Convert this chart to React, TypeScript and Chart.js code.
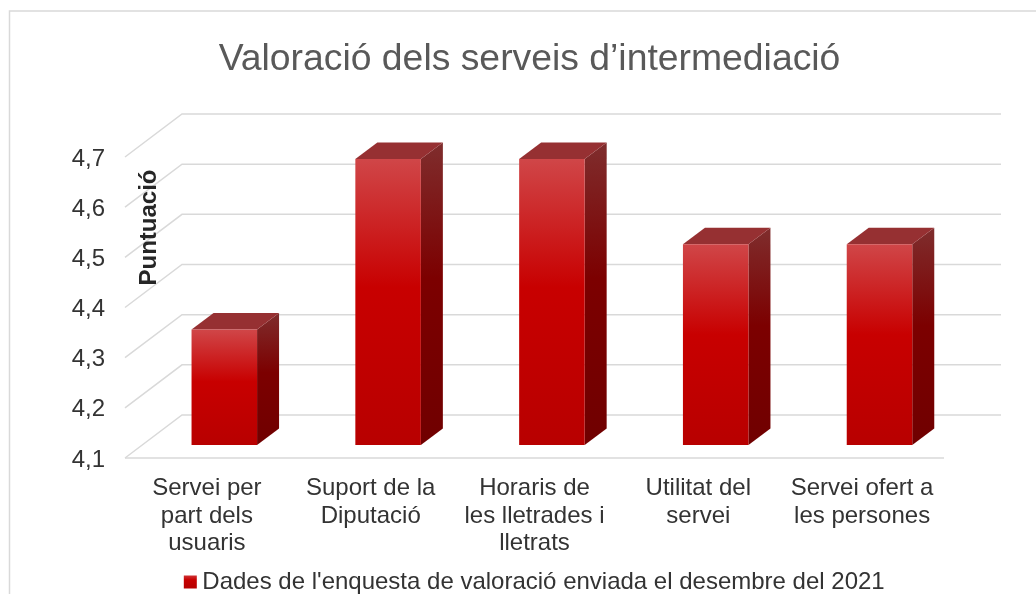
import React, { useEffect, useRef } from "react";
import { Chart, registerables } from "chart.js";

Chart.register(...registerables);

const categories = [
  ["Servei per", "part dels", "usuaris"],
  ["Suport de la", "Diputació"],
  ["Horaris de", "les lletrades i", "lletrats"],
  ["Utilitat del", "servei"],
  ["Servei ofert a", "les persones"],
];
const seriesValues = [4.33, 4.67, 4.67, 4.5, 4.5];
const seriesName = "Dades de l'enquesta de valoració enviada el desembre del 2021";
const chartTitle = "Valoració dels serveis d’intermediació";
const axisTitle = "Puntuació";
const yMin = 4.1;
const yMax = 4.7;

const FONT = "'Liberation Sans', Arial, sans-serif";
const GRID = "#d9d9d9";
const TEXT = "#333333";
const WALL_DX = 57;
const WALL_DY = 43;
const BAR_DX = 17.4;
const BAR_DY = 13;
const DEPTH_DX = 22;
const DEPTH_DY = 16.5;
const TITLE_SHIFT = 57.5;
const LEGEND_SHIFT_X = 65.5;
const LEGEND_SHIFT_Y = 10;

function frontGradient(ctx: CanvasRenderingContext2D, top: number, bottom: number) {
  const g = ctx.createLinearGradient(0, top, 0, bottom);
  g.addColorStop(0, "#d04648");
  g.addColorStop(0.45, "#c80000");
  g.addColorStop(1, "#b80000");
  return g;
}

const depthPlugin = {
  id: "depth3d",
  afterLayout(chart: any) {
    chart.titleBlock.left += TITLE_SHIFT;
    chart.titleBlock.right += TITLE_SHIFT;
    chart.legend.left += LEGEND_SHIFT_X;
    chart.legend.right += LEGEND_SHIFT_X;
    chart.legend.top += LEGEND_SHIFT_Y;
    chart.legend.bottom += LEGEND_SHIFT_Y;
  },
  beforeDraw(chart: any) {
    const { ctx } = chart;
    ctx.save();
    ctx.strokeStyle = GRID;
    ctx.lineWidth = 1.5;
    ctx.beginPath();
    ctx.moveTo(9.5, chart.height + 2);
    ctx.lineTo(9.5, 11);
    ctx.lineTo(chart.width + 2, 11);
    ctx.stroke();
    ctx.restore();
  },
  beforeDatasetsDraw(chart: any) {
    const { ctx, chartArea, scales } = chart;
    ctx.save();
    ctx.strokeStyle = GRID;
    ctx.lineWidth = 1.5;
    scales.y.ticks.forEach((t: any) => {
      const y = scales.y.getPixelForValue(t.value);
      ctx.beginPath();
      ctx.moveTo(chartArea.left, y);
      ctx.lineTo(chartArea.left + WALL_DX, y - WALL_DY);
      ctx.lineTo(chartArea.right + WALL_DX, y - WALL_DY);
      ctx.stroke();
    });
    const y0 = scales.y.getPixelForValue(yMin);
    ctx.beginPath();
    ctx.moveTo(chartArea.left, y0);
    ctx.lineTo(chartArea.right, y0);
    ctx.stroke();

    // axis title sits over the wall gridlines
    ctx.translate(149, 227.5);
    ctx.rotate(-Math.PI / 2);
    ctx.fillStyle = "#262626";
    ctx.font = `bold 24px ${FONT}`;
    ctx.textAlign = "center";
    ctx.textBaseline = "middle";
    ctx.fillText(axisTitle, 0, 0);
    ctx.restore();

    // side and top faces, then the front faces shifted onto the floor
    ctx.save();
    ctx.translate(BAR_DX, -BAR_DY);
    chart.getDatasetMeta(0).data.forEach((bar: any) => {
      const p = bar.getProps(["x", "y", "base", "width"], true);
      const l = p.x - p.width / 2;
      const r = p.x + p.width / 2;
      const side = ctx.createLinearGradient(0, p.y - DEPTH_DY, 0, p.base);
      side.addColorStop(0, "#7f2d2d");
      side.addColorStop(0.45, "#7c0000");
      side.addColorStop(1, "#700000");
      ctx.fillStyle = side;
      ctx.beginPath();
      ctx.moveTo(r, p.y);
      ctx.lineTo(r + DEPTH_DX, p.y - DEPTH_DY);
      ctx.lineTo(r + DEPTH_DX, p.base - DEPTH_DY);
      ctx.lineTo(r, p.base);
      ctx.closePath();
      ctx.fill();
      ctx.fillStyle = "#963032";
      ctx.beginPath();
      ctx.moveTo(l, p.y);
      ctx.lineTo(l + DEPTH_DX, p.y - DEPTH_DY);
      ctx.lineTo(r + DEPTH_DX, p.y - DEPTH_DY);
      ctx.lineTo(r, p.y);
      ctx.closePath();
      ctx.fill();
    });
  },
  afterDatasetsDraw(chart: any) {
    chart.ctx.restore();
  },
};

export default function App() {
  const ref = useRef<HTMLCanvasElement | null>(null);
  useEffect(() => {
    document.body.style.margin = "0";
    const canvas = ref.current!;
    const chart = new Chart(canvas, {
      type: "bar",
      data: {
        labels: categories as any,
        datasets: [
          {
            label: seriesName,
            data: seriesValues,
            barPercentage: 0.4,
            categoryPercentage: 1,
            base: yMin,
            backgroundColor: (c: any) => {
              const s = c.chart.scales.y;
              if (!s || c.dataIndex === undefined) return "#c00000";
              return frontGradient(c.chart.ctx, s.getPixelForValue(seriesValues[c.dataIndex]), s.getPixelForValue(yMin));
            },
          },
        ],
      },
      plugins: [depthPlugin],
      options: {
        responsive: false,
        animation: false,
        layout: { autoPadding: false, padding: { left: 0, right: 92, top: 0, bottom: 0 } },
        plugins: {
          tooltip: { enabled: false },
          title: {
            display: true,
            text: chartTitle,
            color: "#595959",
            font: { family: FONT, size: 37.33, weight: "normal" },
            padding: { top: 37, bottom: 75.2 },
          },
          legend: {
            display: true,
            position: "bottom",
            labels: {
              color: TEXT,
              font: { family: FONT, size: 24 },
              usePointStyle: true,
              boxWidth: 0.01,
              boxHeight: 13,
              padding: 1,
              generateLabels: (c: any) => [
                {
                  text: seriesName,
                  fillStyle: frontGradient(c.ctx, 574, 587),
                  strokeStyle: "rgba(0,0,0,0)",
                  lineWidth: 0,
                  pointStyle: "rect",
                  fontColor: TEXT,
                  datasetIndex: 0,
                },
              ],
            },
          },
        },
        scales: {
          x: {
            afterFit: (s: any) => {
              s.height = 101;
            },
            grid: { display: false },
            border: { display: false },
            ticks: {
              color: TEXT,
              font: { family: FONT, size: 24, lineHeight: 1.15 },
              maxRotation: 0,
              autoSkip: false,
              padding: 8.5,
            },
          },
          y: {
            min: yMin,
            max: yMax,
            afterFit: (s: any) => {
              s.width = 125;
            },
            grid: { display: false },
            border: { display: false },
            ticks: {
              stepSize: 0.1,
              color: TEXT,
              font: { family: FONT, size: 24 },
              padding: 12,
              labelOffset: 2,
              callback: (v: any) => Number(v).toFixed(1).replace(".", ","),
            },
          },
        },
      },
    } as any);
    return () => chart.destroy();
  }, []);
  return <canvas ref={ref} width={1036} height={594} style={{ display: "block" }} />;
}
